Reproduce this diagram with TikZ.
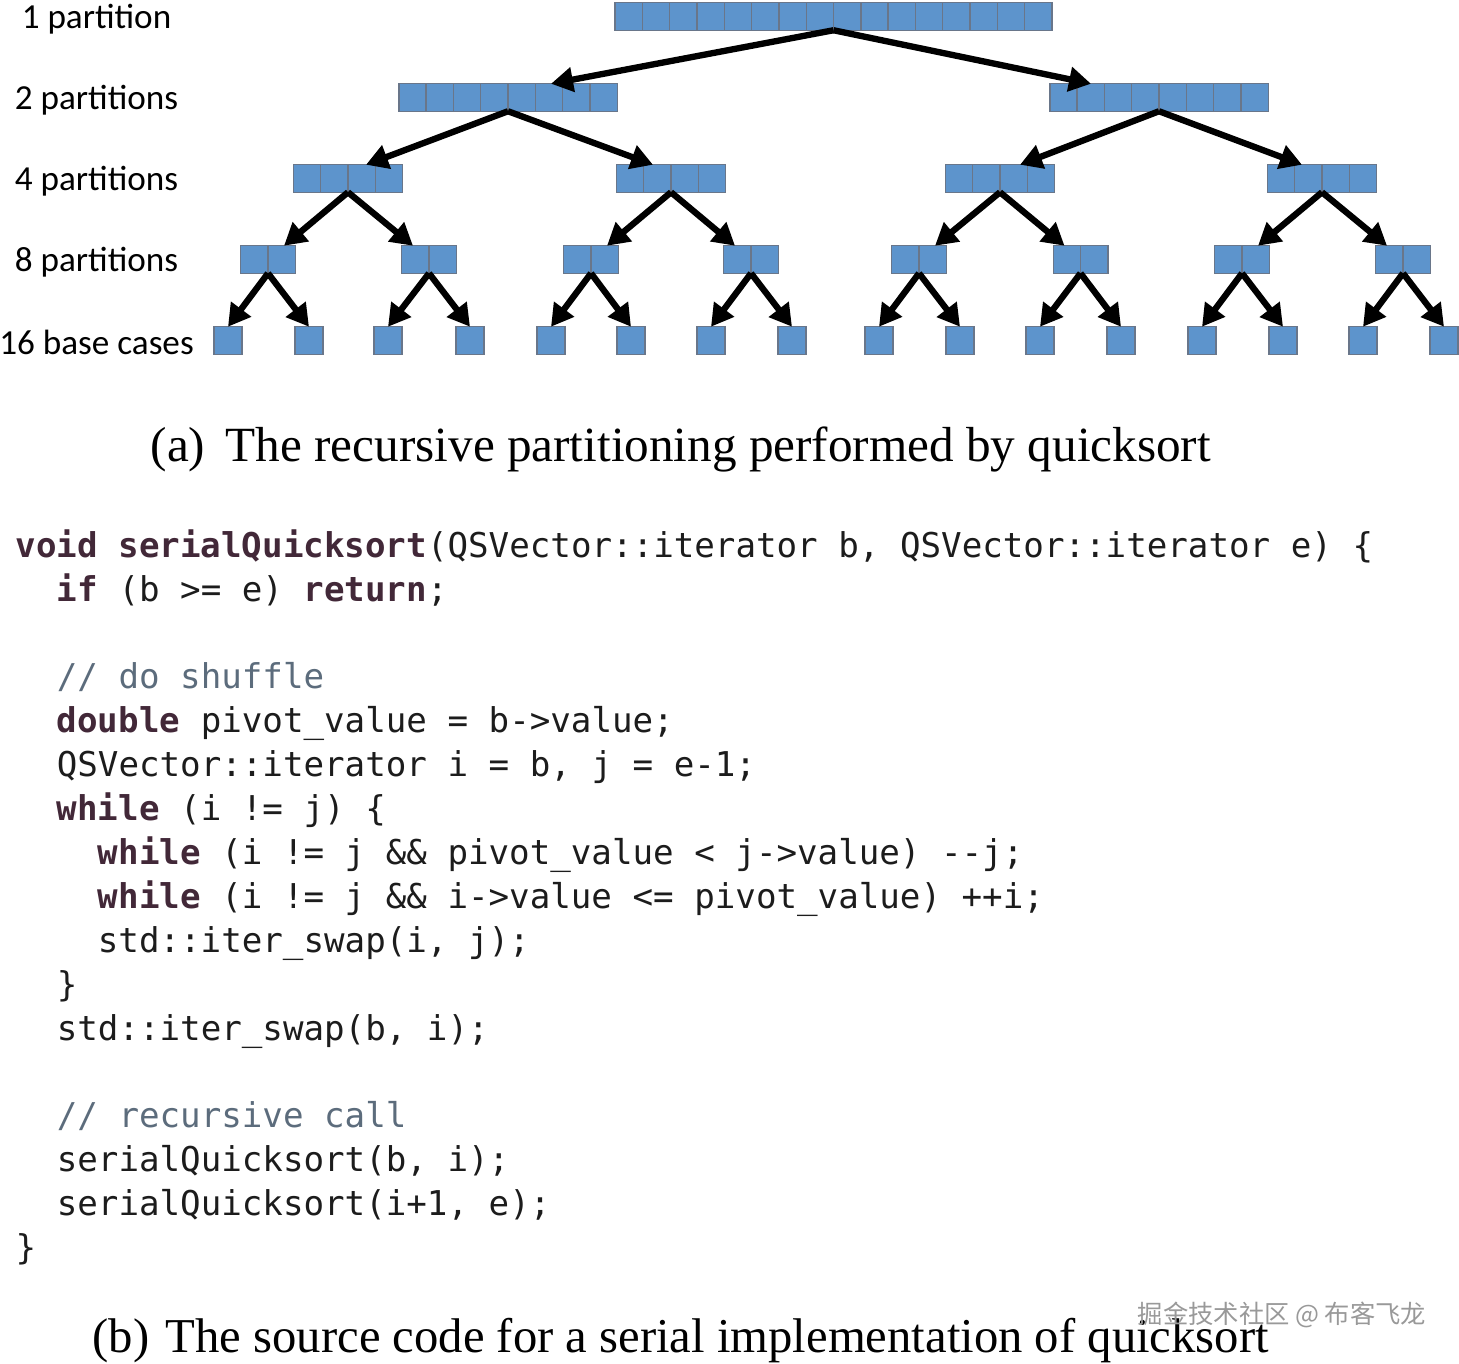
\documentclass[tikz,border=0pt]{standalone}
\usepackage{fontspec}
\usepackage{xcolor}
\setmonofont{DejaVu Sans Mono}
\newfontfamily\lblfont{Carlito}
\newfontfamily\capfont{Liberation Serif}
\newfontfamily\cjkfont{Noto Sans CJK SC}
\usetikzlibrary{arrows.meta,calc}

\definecolor{blkfill}{RGB}{93,148,204}
\definecolor{blkline}{RGB}{105,118,138}
\definecolor{kwcol}{RGB}{66,40,56}
\definecolor{cmtcol}{RGB}{92,108,124}
\definecolor{codecol}{RGB}{28,28,28}

\newcommand{\kw}[1]{{\bfseries\color{kwcol}#1}}
\newcommand{\cmt}[1]{{\color{cmtcol}#1}}

\tikzset{
	blk/.style={draw = blkline, fill = blkfill, line width = 0.4pt, inner sep = 0pt, outer sep = 0pt, minimum height = 0.275cm, minimum width = 0.28cm},
	cells/.style={blk, minimum width = #1*0.273cm,
		path picture={\pgfmathtruncatemacro\lastcell{#1-1}
			\foreach \k in {1,...,\lastcell}
				\draw[blkline, line width = 0.4pt] ($(path picture bounding box.north west)!\k/#1!(path picture bounding box.north east)$) -- ($(path picture bounding box.south west)!\k/#1!(path picture bounding box.south east)$);}},
	recur/.style={line width = 1.8pt, -{Triangle[length = 0.22cm, width = 0.24cm]}},
	lvl/.style={font = \lblfont\fontsize{10}{12}\selectfont},
	code/.style={anchor = base west, inner sep = 0pt, text = codecol, font = \ttfamily\fontsize{9.72}{12.5}\selectfont},
	captxt/.style={anchor = base west, inner sep = 0pt, font = \capfont\fontsize{14}{16}\selectfont}
}

\begin{document}
\begin{tikzpicture}
		\useasboundingbox (0,0) rectangle (14.59,-13.63);

		% level labels
		\node[lvl] (t0) at (0.965,-0.195) {1 partition};
		\node[lvl] (t1) at (0.965,-1.005) {2 partitions};
		\node[lvl] (t2) at (0.965,-1.815) {4 partitions};
		\node[lvl] (t3) at (0.965,-2.625) {8 partitions};
		\node[lvl] (t4) at (0.965,-3.425) {16 base cases};

		% partitions
		\node[cells=16] (lv0) at (8.335,-0.165) {};

		\node[cells=8] (lv1a) at (5.08,-0.975) {};
		\node[cells=8] (lv1b) at (11.59,-0.975) {};

		\node[cells=4] (lv2a) at (3.48,-1.785) {};
		\node[cells=4] (lv2b) at (6.71,-1.785) {};
		\node[cells=4] (lv2c) at (10.00,-1.785) {};
		\node[cells=4] (lv2d) at (13.22,-1.785) {};

		\node[cells=2] (lv3a) at (2.68,-2.595) {};
		\node[cells=2] (lv3b) at (4.29,-2.595) {};
		\node[cells=2] (lv3c) at (5.91,-2.595) {};
		\node[cells=2] (lv3d) at (7.51,-2.595) {};
		\node[cells=2] (lv3e) at (9.19,-2.595) {};
		\node[cells=2] (lv3f) at (10.805,-2.595) {};
		\node[cells=2] (lv3g) at (12.42,-2.595) {};
		\node[cells=2] (lv3h) at (14.03,-2.595) {};

		\node[blk] (lv4a) at (2.28,-3.405) {};
		\node[blk] (lv4b) at (3.09,-3.405) {};
		\node[blk] (lv4c) at (3.88,-3.405) {};
		\node[blk] (lv4d) at (4.70,-3.405) {};
		\node[blk] (lv4e) at (5.51,-3.405) {};
		\node[blk] (lv4f) at (6.31,-3.405) {};
		\node[blk] (lv4g) at (7.11,-3.405) {};
		\node[blk] (lv4h) at (7.92,-3.405) {};
		\node[blk] (lv4i) at (8.79,-3.405) {};
		\node[blk] (lv4j) at (9.60,-3.405) {};
		\node[blk] (lv4k) at (10.40,-3.405) {};
		\node[blk] (lv4l) at (11.21,-3.405) {};
		\node[blk] (lv4m) at (12.02,-3.405) {};
		\node[blk] (lv4n) at (12.83,-3.405) {};
		\node[blk] (lv4o) at (13.63,-3.405) {};
		\node[blk] (lv4p) at (14.44,-3.405) {};

		% arrows
		\draw[recur] (lv0.south) -- ([xshift=0.43cm]lv1a.north);
		\draw[recur] (lv0.south) -- ([xshift=-0.68cm]lv1b.north);

		\draw[recur] (lv1a.south) -- ([xshift=0.18cm]lv2a.north);
		\draw[recur] (lv1a.south) -- ([xshift=-0.18cm]lv2b.north);
		\draw[recur] (lv1b.south) -- ([xshift=0.2cm]lv2c.north);
		\draw[recur] (lv1b.south) -- ([xshift=-0.2cm]lv2d.north);

		\draw[recur] (lv2a.south) -- ([xshift=0.16cm]lv3a.north);
		\draw[recur] (lv2a.south) -- ([xshift=-0.16cm]lv3b.north);
		\draw[recur] (lv2b.south) -- ([xshift=0.16cm]lv3c.north);
		\draw[recur] (lv2b.south) -- ([xshift=-0.16cm]lv3d.north);
		\draw[recur] (lv2c.south) -- ([xshift=0.16cm]lv3e.north);
		\draw[recur] (lv2c.south) -- ([xshift=-0.16cm]lv3f.north);
		\draw[recur] (lv2d.south) -- ([xshift=0.16cm]lv3g.north);
		\draw[recur] (lv2d.south) -- ([xshift=-0.16cm]lv3h.north);

		\draw[recur] (lv3a.south) -- (lv4a.north);
		\draw[recur] (lv3a.south) -- (lv4b.north);
		\draw[recur] (lv3b.south) -- (lv4c.north);
		\draw[recur] (lv3b.south) -- (lv4d.north);
		\draw[recur] (lv3c.south) -- (lv4e.north);
		\draw[recur] (lv3c.south) -- (lv4f.north);
		\draw[recur] (lv3d.south) -- (lv4g.north);
		\draw[recur] (lv3d.south) -- (lv4h.north);
		\draw[recur] (lv3e.south) -- (lv4i.north);
		\draw[recur] (lv3e.south) -- (lv4j.north);
		\draw[recur] (lv3f.south) -- (lv4k.north);
		\draw[recur] (lv3f.south) -- (lv4l.north);
		\draw[recur] (lv3g.south) -- (lv4m.north);
		\draw[recur] (lv3g.south) -- (lv4n.north);
		\draw[recur] (lv3h.south) -- (lv4o.north);
		\draw[recur] (lv3h.south) -- (lv4p.north);

		% caption (a)
		\node[captxt] (capa) at (1.50,-4.61) {(a)};
		\node[captxt] (capat) at (2.25,-4.61) {The recursive partitioning performed by quicksort};

		% source code
		\node[code] (ln1) at (0.15,-5.57) {\kw{void} \kw{serialQuicksort}(QSVector::iterator b, QSVector::iterator e) \{};
		\node[code] (ln2) at (0.561,-6.01) {\kw{if} (b >= e) \kw{return};};
		\node[code] (ln4) at (0.561,-6.88) {\cmt{// do shuffle}};
		\node[code] (ln5) at (0.561,-7.32) {\kw{double} pivot\_value = b->value;};
		\node[code] (ln6) at (0.561,-7.76) {QSVector::iterator i = b, j = e-1;};
		\node[code] (ln7) at (0.561,-8.20) {\kw{while} (i != j) \{};
		\node[code] (ln8) at (0.972,-8.64) {\kw{while} (i != j \&\& pivot\_value < j->value) --j;};
		\node[code] (ln9) at (0.972,-9.08) {\kw{while} (i != j \&\& i->value <= pivot\_value) ++i;};
		\node[code] (ln10) at (0.972,-9.52) {std::iter\_swap(i, j);};
		\node[code] (ln11) at (0.561,-9.96) {\}};
		\node[code] (ln12) at (0.561,-10.40) {std::iter\_swap(b, i);};
		\node[code] (ln14) at (0.561,-11.27) {\cmt{// recursive call}};
		\node[code] (ln15) at (0.561,-11.71) {serialQuicksort(b, i);};
		\node[code] (ln16) at (0.561,-12.15) {serialQuicksort(i+1, e);};
		\node[code] (ln17) at (0.15,-12.59) {\}};

		% caption (b)
		\node[captxt, font = \capfont\fontsize{13.85}{16}\selectfont] (capb) at (0.92,-13.52) {(b)};
		\node[captxt, font = \capfont\fontsize{13.85}{16}\selectfont] (capbt) at (1.65,-13.52) {The source code for a serial implementation of quicksort};

		% watermark
		\node[text = black!40, font = \cjkfont\fontsize{7.2}{9}\selectfont] (wm) at (12.82,-13.15) {掘金技术社区 @ 布客飞龙};

	\end{tikzpicture}
\end{document}
